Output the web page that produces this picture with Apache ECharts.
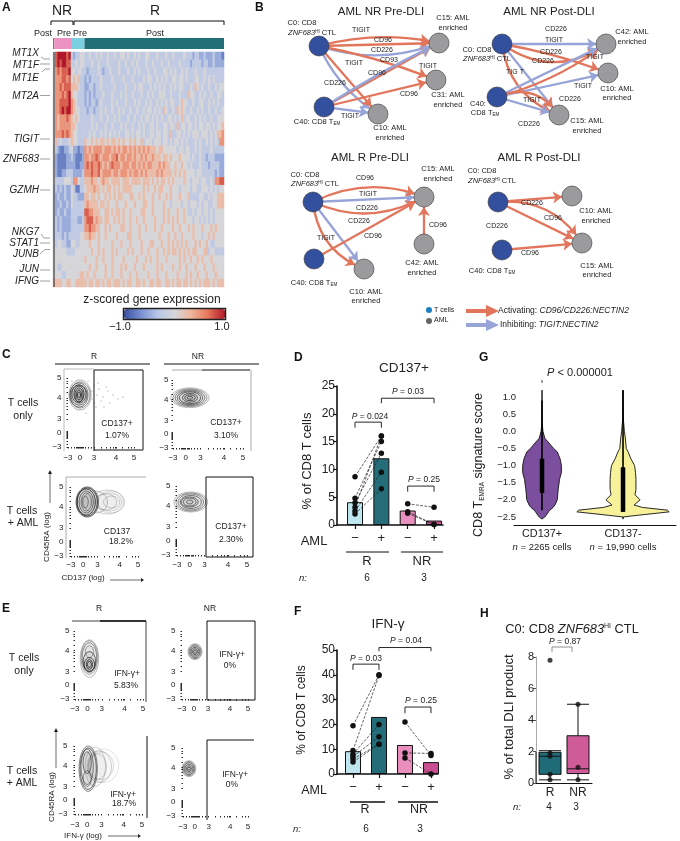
<!DOCTYPE html>
<html><head><meta charset="utf-8">
<style>html,body{margin:0;padding:0;background:#fff}#c{width:680px;height:841px}</style>
<script src="https://cdn.jsdelivr.net/npm/echarts@6/dist/echarts.min.js"></script>
</head><body><div id="c"></div>
<script>
// ---------- DATA ----------
const geneLabels=["MT1X","MT1F","MT1E","MT2A","TIGIT","ZNF683","GZMH","NKG7","STAT1","JUNB","JUN","IFNG"];
const annotGroups=["Post","Pre","Pre","Post"];
const annotColumns=[0.6,7.4,6,62];
// z-scored expression: one digit per cell, 0 = -1.0, 4 = 0, 8 = +1.0
const heatRows=[
"47888878 323344 3343343433 4334334434 3343433443 3343334334 3333433323 3223222322 21",
"47878877 334344 3334334333 4333343343 3434333433 4333433433 3343333233 3323322322 22",
"46767778 443443 3233334323 3433343334 3343433343 3433344343 4334343334 3334333333 33",
"46667767 454533 2323333433 3343333433 3433334344 3343434334 4344343334 4334343433 33",
"46676777 555433 2233233433 3334333343 3343443334 3434343343 4344333435 4343343343 44",
"46667678 544333 2323233343 3343334343 3433343343 4334443343 3343335443 3434334334 43",
"46677778 654333 2323323433 3343433343 3343433434 3343434344 3345443343 3443343434 33",
"46678788 654433 3233233434 3343343433 4334334344 3434354334 3545433433 4343343343 34",
"46566676 545433 3334333433 4334343334 3343343443 4343433443 4345344334 3434334334 44",
"46566666 554333 3334343334 3343334343 3433434334 4343344344 3534434434 3443443434 45",
"46667676 544333 3343433434 3434343344 3434434334 4344344353 3443434344 4344434345 56",
"45343334 544333 5445454554 5455454544 5454453444 3444344343 4434343334 3433434343 66",
"43211223 422122 6565666656 6656565665 6565656565 5545544444 4344344334 3433334333 33",
"42111122 321112 6656676566 6566756656 6565565655 6555455454 4454444343 3433233322 22",
"32111122 221122 6767667656 5676665666 5665656566 5556565544 5445443433 3433323333 22",
"42112233 322223 6667667566 6656656665 6566565655 5565655554 5454544443 4433333323 22",
"43333444 366433 5556554565 5455554555 4555545554 5454554545 4444544344 4344334366 77",
"33232322 431133 4555655454 5545454555 5444445454 4545544454 4434444344 3344434343 44",
"32322322 433222 5545545445 4545455444 5544545444 5445445454 4454445333 3443343445 55",
"32232232 433333 5655554554 5444544454 4454445544 5444454434 4443443444 3434433445 55",
"32322322 333333 7766555445 5454554544 5444455444 5444454544 4544543343 4434434344 44",
"33232222 333223 6777565545 5445454544 5445445444 4544454545 4544544434 4343434344 44",
"33232222 333333 6676655445 4544445544 5444544544 4544544445 4454445454 4454445454 44",
"33332323 333344 5565545445 4444544445 5444544444 4445444544 5445444454 4434454544 44",
"43443322 443344 4454445444 4454445444 5444454445 5444544545 4545454445 4544543344 44",
"44444433 334444 4445445454 4454544445 4544454454 4454454545 5454545455 4445534433 33",
"44444444 444444 5444454454 4454444544 4445444545 4454445444 4454544544 5454445444 44",
"44334444 444444 4454454445 4454445454 4454445444 4454544445 4454454445 4445444544 44",
"44443344 444455 4544544445 4454445444 5445444454 4454445444 4544454544 5444544454 44",
"55554455 445555 5455455454 5545554545 5445545445 5455445545 4554554545 4545554545 55"];

const netNrPreNodes=["C0","C15","C31","C40","C10"];
const netNrPreLinks=[["C0","C15","TIGIT",-0.18],["C0","C15","CD96",0],["C0","C15","CD226",0.12],["C0","C31","CD96",0.05],["C0","C10","TIGIT",-0.15],["C0","C10","CD226",0],["C40","C15","CD96",0],["C40","C15","TIGIT",0.03],["C40","C31","CD96",0],["C40","C10","TIGIT",0]];
const netNrPostNodes=["C0","C42","C10","C40","C15"];
const netNrPostLinks=[["C0","C42","CD226",-0.35],["C0","C42","TIGIT",0],["C0","C10","CD226",0.05],["C0","C15","CD226",-0.3],["C0","C15","TIGIT",0],["C40","C42","CD226",-0.1],["C40","C42","TIGIT",0],["C40","C10","TIGIT",0],["C40","C15","TIGIT",0],["C40","C15","CD226",0.4]];
const netRPreNodes=["C0","C15","C40","C10","C42"];
const netRPreLinks=[["C0","C15","CD96",-0.25],["C0","C15","TIGIT",0],["C0","C15","CD226",0.22],["C0","C10","CD226",-0.3],["C0","C10","TIGIT",0],["C40","C15","CD96",0],["C42","C15","CD96",0]];
const netRPostNodes=["C0","C10","C15","C40"];
const netRPostLinks=[["C0","C10","CD226",0],["C0","C15","CD96",0],["C0","C15","CD226",0.3],["C40","C15","CD96",0]];

const barGroups=["R−","R+","NR−","NR+"];
const cd137Means=[4.1,12,2.6,0.8];
const cd137Minus=[8.7,4.8,4,3.2,2.5,2];
const cd137Plus=[16,15,12.9,16,9.5,6.5];
const cd137NrMinus=[3.8,2.4,2.1];
const cd137NrPlus=[3.2,0.1,0.1];
const ifnMeans=[9.2,23,11.7,4.8];
const ifnMinus=[19.5,9.5,8,7,6,4.8];
const ifnPlus=[40,39.7,20,15,12,12];
const ifnNrMinus=[21,8.5,6.5];
const ifnNrPlus=[7.5,8.3,0];

const violinScores=[1.2,0.3,0,-0.2,-0.5,-0.6,-0.8,-1,-1.2,-1.4,-1.7,-1.85,-2,-2.15,-2.22,-2.3,-2.35,-2.45,-2.5,-2.56];
const violinPlus=[0,0,0.02,0.06,0.25,0.33,0.39,0.42,0.42,0.38,0.35,0.34,0.33,0.28,0.24,0.17,0.14,0.09,0.06,0];
const violinMinus=[0,0.01,0.03,0.05,0.07,0.11,0.17,0.25,0.27,0.28,0.28,0.26,0.37,0.24,0.42,0.96,1,0.32,0,0];
const violinBoxes=[[-0.8,-1.8,0.9,-2.3],[-1.05,-2.35,1.2,-2.35]];

const boxGroups=["R","NR"];
const boxStats=[[0.2,0.55,1.7,1.95,2.05],[0.2,0.6,0.9,3,5]];
const boxPoints=[["R",7.8],["R",1.9],["R",1.7],["R",0.55],["R",0.2],["NR",5],["NR",1],["NR",0.2]];

const flowTickX=[0,12,26,48,66], flowTickY=[0,14,28,49,69], flowTickNames=["−3","0","3","4","5"];
const flowMinorX=[0,3,6,8,9,10,11,12,13,14,15,17,20,23,26,33,38,42,45,47,48,54,60,63,66];
const flowMinorY=[0,3,6,9,10,11,12,13,14,15,16,28,33,38,41,44,47,49,55,60,64,66,69];
const cRTop=[[12,52,11,15,.35],[12,52,10,13,.45],[11,52,9,12,.55],[11,52,8,10,.6],[11,53,7,9,.7],[11,53,5,8,.8],[11,52,4,7,.8],[11,52,2.5,5,.8],[11,52,1.5,3,.8]];
const cRTopDots=[[26,62],[31,58],[24,48],[35,50],[40,56],[33,46],[28,40],[42,44],[45,52],[38,60],[30,64],[50,48],[36,40],[24,56],[29,52],[55,50],[4,66],[20,66],[18,34],[26,44]];
const cNRTop=[[16,51,18,10,.3],[16,51,16,9,.45],[16,51,14,8,.55],[16,51,12,7,.6],[16,51,10,6,.7],[16,51,7,4.5,.7],[16,51,5,3,.7],[16,51,2.5,1.5,.7]];
const cRBot=[[39,54,14,11,.15],[38,54,12,9,.2],[36,54,16,12,.2],[34,54,11,8,.2],[40,54,8,6,.2],[16,54,11,15,.7],[16,54,10,14,.8],[15,54,9,13,.8],[15,54,7,11,.6],[15,54,5,9,.5],[14,54,3,6,.5],[24,54,12,11,.25]];
const cNRBot=[[13,53,16,10,.3],[13,53,14,9,.45],[13,53,12,8,.5],[13,53,10,6.5,.6],[12,53,8,5,.6],[12,53,6,4,.6],[12,53,3,2,.6]];
const eRTop=[[14,41,9,19,.3],[14,42,8,17,.4],[14,42,7,15,.5],[14,38,6,10,.7],[14,35,5,7,.85],[14,35,3,5,.85],[14,48,4,6,.4],[14,35,2,3,.85]];
const eNRTop=[[13,48,7,8,.35],[13,48,6,7,.5],[13,48,5,6,.6],[13,48,4,4.5,.7],[13,48,2.5,3,.7],[13,48,1.5,1.5,.7]];
const eRBot=[[28,49,15,17,.12],[26,49,12,14,.15],[24,48,12,16,.2],[22,48,9,13,.2],[13,46,9,23,.55],[13,46,8,21,.65],[12,48,6,18,.55],[12,52,4,11,.6],[12,36,4,8,.5],[20,48,10,20,.2]];
const eNRBot=[[6,48,7,8,.35],[6,48,6,7,.5],[6,48,5,6,.6],[6,48,4,4.5,.6],[6,48,2.5,3,.7],[6,48,1.5,1.5,.7]];

// ---------- LAYOUT ----------
const FONT='"Liberation Sans",Arial,sans-serif';
const G=[];
function txt(x,y,s,o={}){
  const st={text:s,x:0,y:0,textAlign:o.align||'center',textVerticalAlign:'middle',fontSize:o.size||8,fontFamily:FONT,fontStyle:o.italic?'italic':'normal',fontWeight:o.bold?'bold':'normal',fill:o.color||'#222'};
  if(o.rich)st.rich=o.rich;
  G.push({type:'text',x,y,rotation:o.rot||0,z:100,silent:true,style:st});
}
function poly(pts,o={}){G.push({type:'polyline',z:o.z||100,silent:true,shape:{points:pts},style:{fill:'none',stroke:o.color||'#111',lineWidth:o.w||1,lineDash:o.dash}});}
function tri(pts,c){G.push({type:'polygon',z:100,silent:true,shape:{points:pts},style:{fill:c}});}
function rich(size,italic){return {fontSize:size,fontFamily:FONT,fontStyle:italic?'italic':'normal',fill:'#222'};}

const grids=[],xAxes=[],yAxes=[],series=[];
function addGrid(g,x,y){grids.push(Object.assign({containLabel:false},g));const i=grids.length-1;xAxes.push(Object.assign({gridIndex:i},x));yAxes.push(Object.assign({gridIndex:i},y));return i;}
const hidden={show:false};
const netGrid=addGrid({left:0,top:0,width:680,height:841},{type:'value',min:0,max:680,axisLine:hidden,axisTick:hidden,axisLabel:hidden,splitLine:hidden},{type:'value',min:0,max:841,inverse:true,axisLine:hidden,axisTick:hidden,axisLabel:hidden,splitLine:hidden});
const RED='#e2765c',BLU='#97a4d8',NBLUE='#33509f',NGRAY='#9b9b9e';
function network(names,links,pos){
  series.push({type:'graph',coordinateSystem:'cartesian2d',xAxisIndex:netGrid,yAxisIndex:netGrid,layout:'none',roam:false,silent:true,
    symbolSize:20,edgeSymbol:['none','arrow'],edgeSymbolSize:[0,9],z:5,
    data:names.map(n=>({name:n,value:pos[n],itemStyle:{color:(n==='C0'||n==='C40')?NBLUE:NGRAY,borderColor:'#333',borderWidth:0.6}})),
    label:{show:false},edgeLabel:{show:false},
    links:links.map(l=>({source:l[0],target:l[1],lineStyle:{color:l[2]==='TIGIT'?BLU:RED,width:2.3,curveness:l[3],opacity:1}}))});
}
network(netNrPreNodes,netNrPreLinks,{C0:[319,46],C15:[439,43],C31:[436,80],C40:[324,107],C10:[378,114]});
network(netNrPostNodes,netNrPostLinks,{C0:[502,44],C42:[606,44],C10:[608,73],C40:[497,97],C15:[559,115]});
network(netRPreNodes,netRPreLinks,{C0:[313,202],C15:[424,197],C40:[314,259],C10:[364,269],C42:[424,244]});
network(netRPostNodes,netRPostLinks,{C0:[498,202],C10:[572,196],C15:[582,243],C40:[502,250]});
const el=[["TIGIT",361,30],["CD96",383,40],["CD226",382,50],["CD93",389,60],["TIGIT",354,63],["CD226",335,83],["CD96",377,73],["TIGIT",428,66],["CD96",409,94],["TIGIT",350,116],
["CD226",556,29],["TIGIT",554,40],["CD226",551,52],["CD226",543,61],["CD226",570,99],["TIG T",515,72],["TIGIT",595,57],["TIGIT",583,86],["TIGIT",532,100],["CD226",529,124],
["CD96",365,178],["TIGIT",368,194],["CD226",367,208],["CD226",359,221],["TIGIT",326,238],["CD96",373,236],["CD96",438,225],
["CD226",532,203],["CD96",553,218],["CD226",497,226],["CD96",530,253]];
el.forEach(e=>txt(e[1],e[2],e[0],{size:7}));
[["AML NR Pre-DLI",381,12],["AML NR Post-DLI",549,12],["AML R Pre-DLI",370,158],["AML R Post-DLI",539,158]].forEach(t=>txt(t[1],t[2],t[0],{size:11.5}));
const nrich={i:rich(7.5,true),s:Object.assign(rich(4.5),{verticalAlign:'top'}),n:rich(7.5),b:Object.assign(rich(4.5),{verticalAlign:'bottom'})};
const ZNF='{i|ZNF683}{s|HI}{n| CTL}';
[["C0: CD8",302,23],[ZNF,312,33],["C15: AML",453,18],["enriched",453,28],["C31: AML",448,95],["enriched",448,105],["{n|C40: CD8 T}{b|EM}",317,122],["C10: AML",390,128],["enriched",390,138],
["C42: AML",632,32],["enriched",632,42],["C0: CD8",477,50],[ZNF,487,59],["C10: AML",617,89],["enriched",617,98],["C40:",478,104],["{n|CD8 T}{b|EM}",485,113],["C15: AML",587,121],["enriched",587,131],
["C0: CD8",305,175],[ZNF,315,184],["C15: AML",438,169],["enriched",438,179],["C42: AML",422,263],["enriched",422,273],["{n|C40: CD8 T}{b|EM}",314,283],["C10: AML",366,292],["enriched",366,301],
["C0: CD8",482,171],[ZNF,492,181],["C10: AML",596,211],["enriched",596,221],["C15: AML",597,266],["enriched",597,275],["{n|C40: CD8 T}{b|EM}",492,271]].forEach(t=>txt(t[1],t[2],t[0],{size:7.5,rich:nrich}));
G.push({type:'circle',z:100,silent:true,shape:{cx:429,cy:310,r:3},style:{fill:'#1c7fc0'}});
G.push({type:'circle',z:100,silent:true,shape:{cx:429,cy:321,r:3},style:{fill:'#666'}});
txt(434,310,'T cells',{size:7,align:'left'});txt(434,320,'AML',{size:7,align:'left'});
poly([[466,311],[488,311]],{color:RED,w:4});tri([[486,305],[499,311],[486,317]],RED);
poly([[466,325],[488,325]],{color:BLU,w:4});tri([[486,319],[499,325],[486,331]],BLU);
const legR={n:rich(8.5),i:rich(8.5,true)};
txt(498,311,'{n|Activating: }{i|CD96/CD226:NECTIN2}',{size:8.5,align:'left',rich:legR});
txt(500,325,'{n|Inhibiting: }{i|TIGIT:NECTIN2}',{size:8.5,align:'left',rich:legR});

[["A",2,8],["B",255,8],["C",2,355],["D",294,358],["E",2,609],["F",294,612],["G",479,358],["H",480,614]].forEach(l=>txt(l[1],l[2],l[0],{size:12,bold:true,align:'left',color:'#111'}));

// ---- Panel A
const heatCols=heatRows[0].replace(/ /g,'').length, heatData=[];
heatRows.forEach((r,ri)=>r.replace(/ /g,'').split('').forEach((d,ci)=>heatData.push([ci,ri,(+d-4)/4])));
const catIdx=n=>Array.from({length:n},(_,i)=>i);
const noAxis={axisLine:hidden,axisTick:hidden,axisLabel:hidden,splitLine:hidden};
const gHeat=addGrid({left:53,top:52,width:171,height:235},Object.assign({type:'category',data:catIdx(heatCols)},noAxis),Object.assign({type:'category',inverse:true,data:catIdx(heatRows.length)},noAxis));
series.push({id:'heat',type:'heatmap',xAxisIndex:gHeat,yAxisIndex:gHeat,data:heatData,silent:true,progressive:0});
const gAnn=addGrid({left:53,top:38,width:171,height:11},Object.assign({type:'value',min:0,max:76},noAxis),Object.assign({type:'category',data:['a']},noAxis));
const annColors=['#c2508a','#ec93c3','#7ad0e0','#226f78'];
annotColumns.forEach((v,i)=>series.push({name:annotGroups[i],type:'bar',stack:'ann',xAxisIndex:gAnn,yAxisIndex:gAnn,barWidth:11,data:[v],itemStyle:{color:annColors[i]},silent:true}));
poly([[51,25],[51,21],[73,21],[73,25]],{w:1});poly([[74,25],[74,21],[224,21],[224,25]],{w:1});
txt(62,11,'NR',{size:14});txt(155,11,'R',{size:14});
txt(43,34,'Post',{size:9});txt(64,34,'Pre',{size:9});txt(80,34,'Pre',{size:9});txt(155,34,'Post',{size:9});
const gy=[53,65,78,96,139,159,190,232,243,254,269,281];
geneLabels.forEach((g,i)=>txt(39,gy[i],g,{size:10,italic:true,align:'right'}));
[[[41,57],[44,59],[50,59]],[[40,64],[50,64]],[[42,72],[45,69],[50,69]],[[40,95.5],[50,95.5]],[[40,139],[50,139]],[[40,159],[50,159]],[[40,190],[50,190]],[[41,234],[44,238],[50,238]],[[40,243],[50,243]],[[40,254],[45,249.5],[50,249.5]],[[40,270],[50,270]],[[40,281],[50,281]]].forEach(p=>poly(p,{color:'#777',w:.7}));
poly([[54,52],[54,287]],{color:'#222',w:1});
txt(152,300,'z-scored gene expression',{size:12});
G.push({type:'rect',z:100,silent:true,shape:{x:123.5,y:308.5,width:102,height:11},style:{fill:'none',stroke:'#222',lineWidth:1.5}});
txt(120,327,'−1.0',{size:11});txt(222,327,'1.0',{size:11});

// ---- Flow panels
function flow(p,cont,dots){
  const sx=(p.x5-p.x0)/66, sy=(p.y0-p.y5)/69;
  const names=v=>{const i=flowTickX.indexOf(v);return i<0?'':flowTickNames[i];};
  const namesY=v=>{const i=flowTickY.indexOf(v);return i<0?'':flowTickNames[i];};
  const g=addGrid({left:p.l,top:p.t,width:p.r-p.l,height:p.b-p.t},
   {type:'value',min:(p.l-p.x0)/sx,max:(p.r-p.x0)/sx,axisLine:hidden,splitLine:hidden,axisTick:{show:true,length:1.5,customValues:flowMinorX,lineStyle:{color:'#111',width:.9}},axisLabel:{show:true,customValues:flowTickX,formatter:names,fontSize:8,fontFamily:FONT,color:'#222',margin:2.5,hideOverlap:false,showMinLabel:true,showMaxLabel:true}},
   {type:'value',min:(p.y0-p.b)/sy,max:(p.y0-p.t)/sy,axisLine:hidden,splitLine:hidden,axisTick:{show:true,length:1.5,customValues:flowMinorY,lineStyle:{color:'#111',width:.9}},axisLabel:{show:true,customValues:flowTickY,formatter:namesY,fontSize:8,fontFamily:FONT,color:'#222',margin:2.5,hideOverlap:false,showMinLabel:true,showMaxLabel:true}});
  series.push({type:'custom',xAxisIndex:g,yAxisIndex:g,silent:true,data:cont,clip:false,
    renderItem:(pa,api)=>{const c=api.coord([api.value(0),api.value(1)]),s=api.size([api.value(2),api.value(3)]),k=api.value(4);
      return {type:'ellipse',shape:{cx:c[0],cy:c[1],rx:s[0],ry:s[1]},style:{fill:'rgba(70,70,70,'+(k*0.09)+')',stroke:'rgba(40,40,40,'+Math.min(1,k*1.15)+')',lineWidth:.9}};}});
  if(dots)series.push({type:'scatter',xAxisIndex:g,yAxisIndex:g,silent:true,symbolSize:1.1,itemStyle:{color:'#666'},data:dots});
}
flow({x0:68,x5:134,y0:447,y5:378,l:64,r:143,t:369,b:451},cRTop,cRTopDots);
flow({x0:173,x5:243,y0:448,y5:380,l:171,r:251,t:370,b:451},cNRTop);
flow({x0:71,x5:138,y0:556,y5:487,l:66,r:145,t:477,b:558},cRBot);
flow({x0:177,x5:247,y0:555,y5:486,l:173,r:253,t:477,b:558},cNRBot);
flow({x0:75,x5:143,y0:699,y5:631,l:72,r:146,t:621,b:702},eRTop);
flow({x0:182,x5:248,y0:699,y5:631,l:178,r:255,t:621,b:702},eNRTop);
flow({x0:75,x5:142,y0:814,y5:746,l:70,r:147,t:736,b:818},eRBot);
flow({x0:183,x5:248,y0:816,y5:748,l:178,r:254,t:740,b:820},eNRBot);
const GR='#aaa';
poly([[64,451],[64,369],[94,369]],{color:'#bbb'});
poly([[94,451],[94,370],[143,370],[143,450],[94,450]],{w:1});
poly([[172,370],[202,370]],{color:GR});poly([[202,370],[250,370]],{w:1});poly([[251,370],[251,451]],{color:GR});
poly([[66,558],[66,477],[146,477]],{color:GR});
poly([[206,557],[206,477],[253,477],[253,557],[206,557]],{w:1});
poly([[72,621],[146,621],[146,702]],{w:.8});poly([[100,621],[146,621]],{w:1.6});
poly([[207,700],[207,621],[255,621],[255,700],[207,700]],{w:1});
poly([[147,736],[147,818]],{w:1});
poly([[254,740],[207,740],[207,820]],{w:1});
const fl=8.5;
[["CD137+",117,424],["1.07%",117,436],["CD137+",226,423],["3.10%",226,436],["CD137",117,532],["18.2%",121,542],["CD137+",231,527],["2.30%",231,540],
["IFN-γ+",127,674],["5.83%",126,686],["IFN-γ+",232,655],["0%",230,666],["IFN-γ+",123,795],["18.7%",124,804],["IFN-γ+",235,775],["0%",232,785]].forEach(t=>txt(t[1],t[2],t[0],{size:fl}));
txt(94,357,'R',{size:8.5});txt(198,357,'NR',{size:8.5});poly([[55,364],[150,364]],{w:1});poly([[164,364],[259,364]],{w:1});
txt(23,403,'T cells',{size:10.5});txt(23,416,'only',{size:10.5});txt(22,511,'T cells',{size:10.5});txt(23,523,'+ AML',{size:10.5});
txt(47,537,'CD45RA (log)',{size:8,rot:Math.PI/2});poly([[50,503],[50,473]],{color:'#444',w:.8});tri([[48,474],[50,470],[52,474]],'#222');
txt(83,578,'CD137 (log)',{size:8});poly([[110,580],[141,580]],{color:'#444',w:.8});tri([[141,578],[144,580],[141,582]],'#222');
txt(99,609,'R',{size:8.5});txt(210,609,'NR',{size:8.5});
txt(24,658,'T cells',{size:10.5});txt(24,671,'only',{size:10.5});txt(22,771,'T cells',{size:10.5});txt(22,783,'+ AML',{size:10.5});
txt(52,797,'CD45RA (log)',{size:8,rot:Math.PI/2});poly([[56,768],[56,731]],{color:'#444',w:.8});tri([[54,732],[56,728],[58,732]],'#222');
txt(83,836,'IFN-γ (log)',{size:8});poly([[108,836],[138,836]],{color:'#444',w:.8});tri([[138,834],[141,836],[138,838]],'#222');

// ---- Panels D, F
const barColors=['#bfe6ee','#256d78','#e88fbe','#c94f93'];
const plusMinus=v=>v===1||v===3?'−':'+';
function pairedBars(box,xMin,xMax,yMax,yInt,means,minus,plus,nrMinus,nrPlus,brackets){
  const ya={type:'value',min:0,max:yMax,interval:yInt,splitLine:hidden,axisLine:{show:true,lineStyle:{color:'#111',width:1.6}},axisTick:{show:true,length:4,lineStyle:{color:'#111',width:1.2}},axisLabel:{fontSize:12,fontFamily:FONT,color:'#222',margin:2}};
  const xa={type:'value',min:xMin,max:xMax,splitLine:hidden,axisLine:{show:true,onZero:false,lineStyle:{color:'#111',width:1.6}},axisTick:{show:true,length:4,customValues:[1,2,3,4],lineStyle:{color:'#111',width:1.2}},axisLabel:{show:true,customValues:[1,2,3,4],formatter:plusMinus,fontSize:13,fontFamily:FONT,color:'#222',margin:7}};
  const g=addGrid(box,xa,ya);
  series.push({type:'bar',xAxisIndex:g,yAxisIndex:g,barWidth:16,silent:true,z:2,data:means.map((m,i)=>({value:[i+1,m],itemStyle:{color:barColors[i],borderColor:'#111',borderWidth:1}}))});
  const pair=(x1,x2,a,b)=>a.forEach((v,i)=>series.push({type:'line',xAxisIndex:g,yAxisIndex:g,silent:true,z:3,symbol:'circle',symbolSize:5.5,itemStyle:{color:'#111'},lineStyle:{color:'#222',width:.7,type:'dashed'},data:[[x1,v],[x2,b[i]]]}));
  pair(1,2,minus,plus);pair(3,4,nrMinus,nrPlus);
  brackets.forEach(b=>series.push({type:'line',xAxisIndex:g,yAxisIndex:g,silent:true,clip:false,z:3,symbol:'none',lineStyle:{color:'#111',width:.9},data:[[b[0],b[3]],[b[0],b[2]],[b[1],b[2]],[b[1],b[3]]]}));
}
pairedBars({left:337,top:386,width:106,height:139},0.316,4.34,25,5,cd137Means,cd137Minus,cd137Plus,cd137NrMinus,cd137NrPlus,[[1,2,18.5,17.5],[2,4,22.8,21.9],[3,4,7,6]]);
pairedBars({left:337,top:650,width:101,height:124},0.385,4.27,50,10,ifnMeans,ifnMinus,ifnPlus,ifnNrMinus,ifnNrPlus,[[1,2,44.3,42],[2,4,51,49.5],[3,4,27,24.5]]);
const pr={i:rich(8.5,true),n:rich(8.5)};
const P=s=>'{i|P}{n| '+s+'}';
txt(404,368,'CD137+',{size:13.5});txt(307,461,'% of CD8 T cells',{size:13,rot:Math.PI/2});
txt(370,417,P('= 0.024'),{rich:pr});txt(408,392,P('= 0.03'),{rich:pr});txt(424,480,P('= 0.25'),{rich:pr});
txt(314,541,'AML',{size:13});poly([[346,552],[389,552]],{w:1});poly([[401,552],[443,552]],{w:1});
txt(367,561,'R',{size:13});txt(422,561,'NR',{size:13});txt(303,578,'n:',{size:9.5,italic:true});txt(367,578,'6',{size:10});txt(424,578,'3',{size:10});
txt(388,624,'IFN-γ',{size:13.5});txt(302,710,'% of CD8 T cells',{size:12,rot:Math.PI/2});
txt(366,659,P('= 0.03'),{rich:pr});txt(406,641,P('= 0.04'),{rich:pr});txt(421,701,P('= 0.25'),{rich:pr});
txt(314,791,'AML',{size:12.5});poly([[350,802],[385,802]],{w:1.6});poly([[398,802],[438,802]],{w:1.6});
txt(365,810,'R',{size:12.5});txt(419,810,'NR',{size:12.5});txt(297,829,'n:',{size:9.5,italic:true});txt(366,829,'6',{size:10});txt(420,829,'3',{size:10});

// ---- Panel G
const gVio=addGrid({left:514,top:386.7,width:162,height:138.3},
 {type:'value',min:0.654,max:2.654,splitLine:hidden,axisTick:hidden,axisLine:{show:true,onZero:false,lineStyle:{color:'#111',width:1}},
  axisLabel:{show:true,customValues:[1,2],margin:3,formatter:v=>v===1?'{a|CD137+}\n{i|n}{b| = 2265 cells}':'{a|CD137-}\n{i|n}{b| = 19,990 cells}',
   rich:{a:{fontSize:10.8,fontFamily:FONT,color:'#222',lineHeight:13},b:{fontSize:9.5,fontFamily:FONT,color:'#222',lineHeight:13},i:{fontSize:9.5,fontStyle:'italic',fontFamily:FONT,color:'#222',lineHeight:13}}}},
 {type:'value',min:-2.733,max:1.3,splitLine:hidden,axisLine:hidden,axisTick:hidden,
  axisLabel:{show:true,customValues:[1,0.5,0,-0.5,-1,-1.5,-2,-2.5],formatter:v=>v.toFixed(1).replace('-','−'),fontSize:9.5,fontFamily:FONT,color:'#222',margin:-2,hideOverlap:false}});
series.push({type:'custom',xAxisIndex:gVio,yAxisIndex:gVio,silent:true,data:[[1],[2]],clip:false,
 renderItem:(pa,api)=>{const xc=api.value(0),prof=pa.dataIndex===0?violinPlus:violinMinus,b=violinBoxes[pa.dataIndex],col=pa.dataIndex===0?'#7b4f9d':'#f7f19a',k=0.57;
   const left=[],right=[];violinScores.forEach((s,i)=>{left.push(api.coord([xc-prof[i]*k,s]));right.unshift(api.coord([xc+prof[i]*k,s]));});
   const ln=(a,bb,w)=>({type:'line',shape:{x1:api.coord([xc,a])[0],y1:api.coord([xc,a])[1],x2:api.coord([xc,bb])[0],y2:api.coord([xc,bb])[1]},style:{stroke:'#000',lineWidth:w}});
   return {type:'group',children:[{type:'polygon',shape:{points:left.concat(right)},style:{fill:col,stroke:'#111',lineWidth:.9}},ln(b[2],b[3],1.6),ln(b[0],b[1],4.5)]};}});
txt(580,373,'{i|P}{n| < 0.000001}',{rich:{i:rich(11,true),n:rich(11)}});poly([[542,380],[542,383]],{w:.8});
txt(479,465,'{n|CD8 T}{s|EMRA}{n| signature score}',{rot:Math.PI/2,rich:{n:rich(12.5),s:Object.assign(rich(6.5),{verticalAlign:'bottom'})}});

// ---- Panel H
const gBox=addGrid({left:536,top:657,width:56,height:126},
 {type:'category',data:boxGroups,splitLine:hidden,axisTick:hidden,axisLine:{show:true,lineStyle:{color:'#111',width:1}},axisLabel:{fontSize:12,fontFamily:FONT,color:'#222',margin:4}},
 {type:'value',min:0,max:8,interval:2,splitLine:hidden,axisLine:{show:true,lineStyle:{color:'#aaa',width:1}},axisTick:{show:true,length:3,lineStyle:{color:'#555'}},axisLabel:{fontSize:11,fontFamily:FONT,color:'#222',margin:2}});
series.push({type:'boxplot',xAxisIndex:gBox,yAxisIndex:gBox,silent:true,boxWidth:[22,22],z:2,
 data:boxStats.map((s,i)=>({value:s,itemStyle:{color:i?'#cf5c99':'#1f6b78',borderColor:'#111',borderWidth:1}}))});
series.push({type:'scatter',xAxisIndex:gBox,yAxisIndex:gBox,silent:true,symbolSize:5,z:3,itemStyle:{color:'#111'},data:boxPoints});
poly([[536,752],[536,783]],{w:1});
txt(572,629,'{n|C0: CD8 }{i|ZNF683}{s|HI}{n| CTL}',{rich:{n:rich(12.8),i:rich(12.8,true),s:Object.assign(rich(7),{verticalAlign:'top'})}});
txt(565,642,P('= 0.87'),{rich:pr});poly([[552,652],[552,647],[572,647],[572,652]],{color:'#777',w:.8});
txt(509,717,'% of total DLI product',{size:13,rot:Math.PI/2});
txt(517,807,'n:',{size:9.5,italic:true});txt(549,807,'4',{size:10});txt(576,807,'3',{size:10});

// ---------- CHART ----------
const chart=echarts.init(document.getElementById('c'),null,{renderer:'canvas'});
chart.setOption({animation:false,backgroundColor:'#fff',textStyle:{fontFamily:FONT},
 grid:grids,xAxis:xAxes,yAxis:yAxes,series:series,
 visualMap:{type:'continuous',seriesId:'heat',min:-1,max:1,orient:'horizontal',left:124,top:309,padding:0,itemWidth:10,itemHeight:101,calculable:false,text:null,showLabel:false,
   inRange:{color:['#3a4ea3','#7a90d0','#b8c6e6','#d6d5d8','#efb59b','#e5755a','#b2182b']},hoverLink:false,realtime:false},
 graphic:{elements:G}});
</script></body></html>
